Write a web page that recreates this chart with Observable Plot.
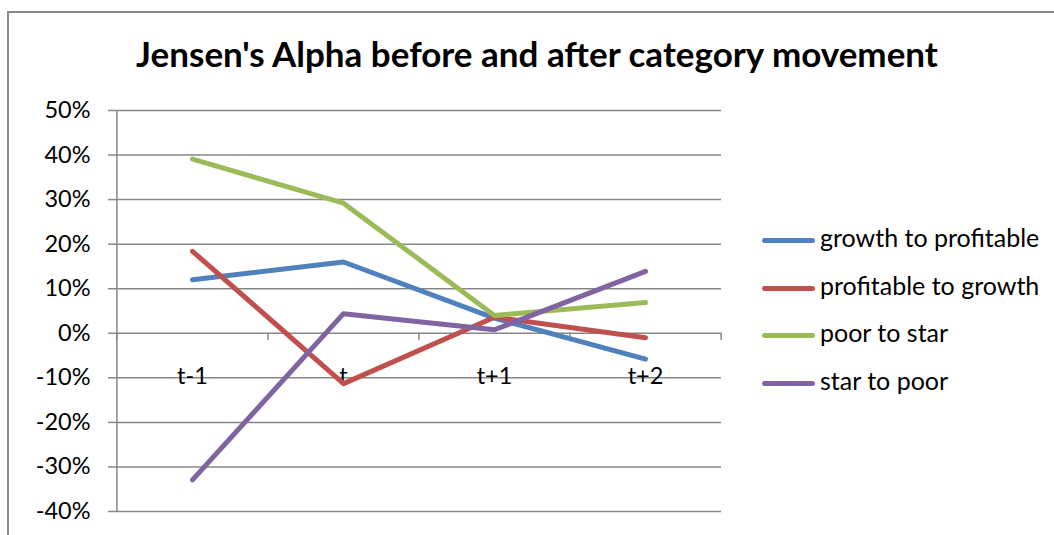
<!DOCTYPE html>
<html><head><meta charset="utf-8">
<script src="https://cdn.jsdelivr.net/npm/d3@7"></script>
<script src="https://cdn.jsdelivr.net/npm/@observablehq/plot@0.6"></script>
<style>
body{margin:0;background:#fff;font-family:Lato,"Open Sans",sans-serif;}
#wrap{position:relative;width:1054px;height:535px;overflow:hidden;}
#frame{position:absolute;left:7px;top:11px;width:1100px;height:600px;border-left:2px solid #8a8a8a;border-top:2px solid #8a8a8a;}
#title{position:absolute;left:0;width:1074px;top:32px;text-align:center;font-weight:bold;font-size:35px;color:#000;}
#legend{position:absolute;left:762px;top:0;}
.li{position:absolute;left:0;white-space:nowrap;font-size:25px;color:#000;line-height:30px;}
.li span.sw{display:inline-block;width:53px;height:5px;border-radius:3px;vertical-align:middle;margin-right:5px;}
#chart{position:absolute;left:0;top:0;}
</style></head>
<body><div id="wrap"><div id="frame"></div><div id="chart"></div><div id="title">Jensen's Alpha before and after category movement</div><div id="legend"></div></div>
<script>
const periods = ["t-1", "t", "t+1", "t+2"];
const seriesNames = ["growth to profitable", "profitable to growth", "poor to star", "star to poor"];
const growthToProfitable = [0.12, 0.16, 0.034, -0.058];
const profitableToGrowth = [0.184, -0.113, 0.036, -0.010];
const poorToStar = [0.391, 0.292, 0.040, 0.069];
const starToPoor = [-0.329, 0.044, 0.008, 0.139];
const colors = ["#4F81BD", "#C0504D", "#9BBB59", "#8064A2"];
const yTicks = [-0.4, -0.3, -0.2, -0.1, 0, 0.1, 0.2, 0.3, 0.4, 0.5];

const allValues = [growthToProfitable, profitableToGrowth, poorToStar, starToPoor];
const data = [];
seriesNames.forEach((s, i) => periods.forEach((p, j) => data.push({series: s, period: p, value: allValues[i][j]})));

const chart = Plot.plot({
  width: 1054, height: 535,
  marginLeft: 116, marginRight: 333, marginTop: 110, marginBottom: 24,
  style: {fontFamily: "Lato, 'Open Sans', sans-serif", fontSize: "23px", color: "#000", background: "transparent"},
  x: {type: "point", domain: periods, padding: 0.5, axis: null},
  y: {domain: [-0.4, 0.5], axis: null, label: null},
  color: {domain: seriesNames, range: colors},
  marks: [
    Plot.gridY(yTicks, {stroke: "#878787", strokeOpacity: 1, strokeWidth: 1.5}),
    Plot.axisY(yTicks, {label: null, tickSize: 8, tickPadding: 18, stroke: "#878787", strokeWidth: 1.5, tickFormat: d => Math.round(d * 100) + "%", fontSize: 23.5, fill: "#000"}),
    Plot.ruleX([0], {x: () => periods[0], dx: -75.6, y1: -0.4, y2: 0.5, stroke: "#878787", strokeWidth: 1.5}),
    Plot.ruleX(periods, {x: d => d, dx: -75.6, y1: 0, y2: -0.016, stroke: "#878787", strokeWidth: 1.5}),
    Plot.ruleX([periods[periods.length - 1]], {x: d => d, dx: 75.6, y1: 0, y2: -0.016, stroke: "#878787", strokeWidth: 1.5}),
    Plot.text(periods, {x: d => d, y: 0, dy: 43, text: d => d, fontSize: 23.5, fill: "#000"}),
    Plot.line(data, {x: "period", y: "value", z: "series", stroke: "series", strokeWidth: 5, strokeLinecap: "round", strokeLinejoin: "round"})
  ]
});
document.getElementById("chart").appendChild(chart);

const legend = document.getElementById("legend");
const legendTops = [222, 270, 317, 365];
seriesNames.forEach((s, i) => {
  const d = document.createElement("div");
  d.className = "li";
  d.style.top = legendTops[i] + "px";
  d.innerHTML = `<span class="sw" style="background:${colors[i]}"></span>${s}`;
  legend.appendChild(d);
});
</script></body></html>
